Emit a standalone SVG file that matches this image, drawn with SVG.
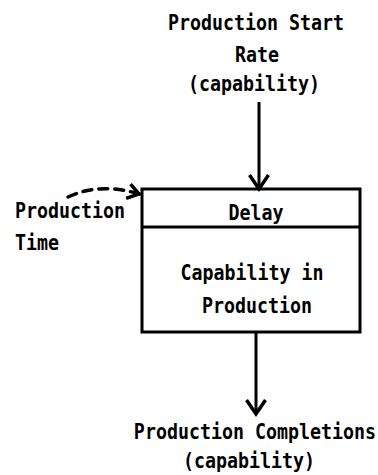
<svg xmlns="http://www.w3.org/2000/svg" width="378" height="475" viewBox="0 0 378 475">
  <style>
    .lbl { font-family: "DejaVu Sans Mono", "Liberation Mono", monospace; font-weight: bold; font-size: 18.3px; fill: #000; }
    .mid { text-anchor: middle; }
    .box { fill: #fff; stroke: #000; stroke-width: 3; }
    .flow { fill: none; stroke: #000; stroke-width: 3; }
    .info { fill: none; stroke: #000; stroke-width: 3.5; stroke-dasharray: 9 7; stroke-linecap: round; }
  </style>
  <defs>
    <marker id="chev" markerUnits="userSpaceOnUse" viewBox="-16 -12 20 24" markerWidth="20" markerHeight="24" refX="0" refY="0" orient="auto" overflow="visible">
      <path d="M-14,-9.5 L0,0 L-14,9.5" fill="none" stroke="#000" stroke-width="3.5" stroke-linejoin="miter"/>
    </marker>
    <marker id="chev-small" markerUnits="userSpaceOnUse" viewBox="-14 -10 16 20" markerWidth="16" markerHeight="20" refX="0" refY="0" orient="auto" overflow="visible">
      <path d="M-11,-7 L0,0 L-11,8" fill="none" stroke="#000" stroke-width="3.5"/>
    </marker>
  </defs>

  <rect width="378" height="475" fill="#fff"/>

  <!-- stock: delay box (labels drawn in a tall, condensed style) -->
  <g id="capability-in-production">
    <rect class="box" x="142" y="189" width="218" height="143"/>
    <line class="flow" x1="142" y1="227" x2="360" y2="227"/>
    <text class="lbl mid" transform="translate(256 220) scale(1 1.2)">Delay</text>
    <text class="lbl mid" transform="translate(252 280) scale(1 1.2)">Capability in</text>
    <text class="lbl mid" transform="translate(257 313) scale(1 1.2)">Production</text>
  </g>

  <!-- inflow rate -->
  <g id="production-start-rate">
    <text class="lbl mid" transform="translate(256 30) scale(1 1.2)">Production Start</text>
    <text class="lbl mid" transform="translate(257 62) scale(1 1.2)">Rate</text>
    <text class="lbl mid" transform="translate(254 91) scale(1 1.2)">(capability)</text>
  </g>

  <!-- delay parameter -->
  <g id="production-time">
    <text class="lbl" transform="translate(15 218) scale(1 1.2)">Production</text>
    <text class="lbl" transform="translate(15 250) scale(1 1.2)">Time</text>
  </g>

  <!-- outflow rate -->
  <g id="production-completions">
    <text class="lbl mid" transform="translate(255 439) scale(1 1.2)">Production Completions</text>
    <text class="lbl mid" transform="translate(249 468) scale(1 1.2)">(capability)</text>
  </g>

  <!-- connectors -->
  <g id="connectors">
    <line class="flow" x1="259" y1="102" x2="259" y2="189" marker-end="url(#chev)"/>
    <line class="flow" x1="256" y1="333" x2="256" y2="414" marker-end="url(#chev)"/>
    <path class="info" d="M68,197 Q100,182 139,194" marker-end="url(#chev-small)"/>
  </g>
</svg>
